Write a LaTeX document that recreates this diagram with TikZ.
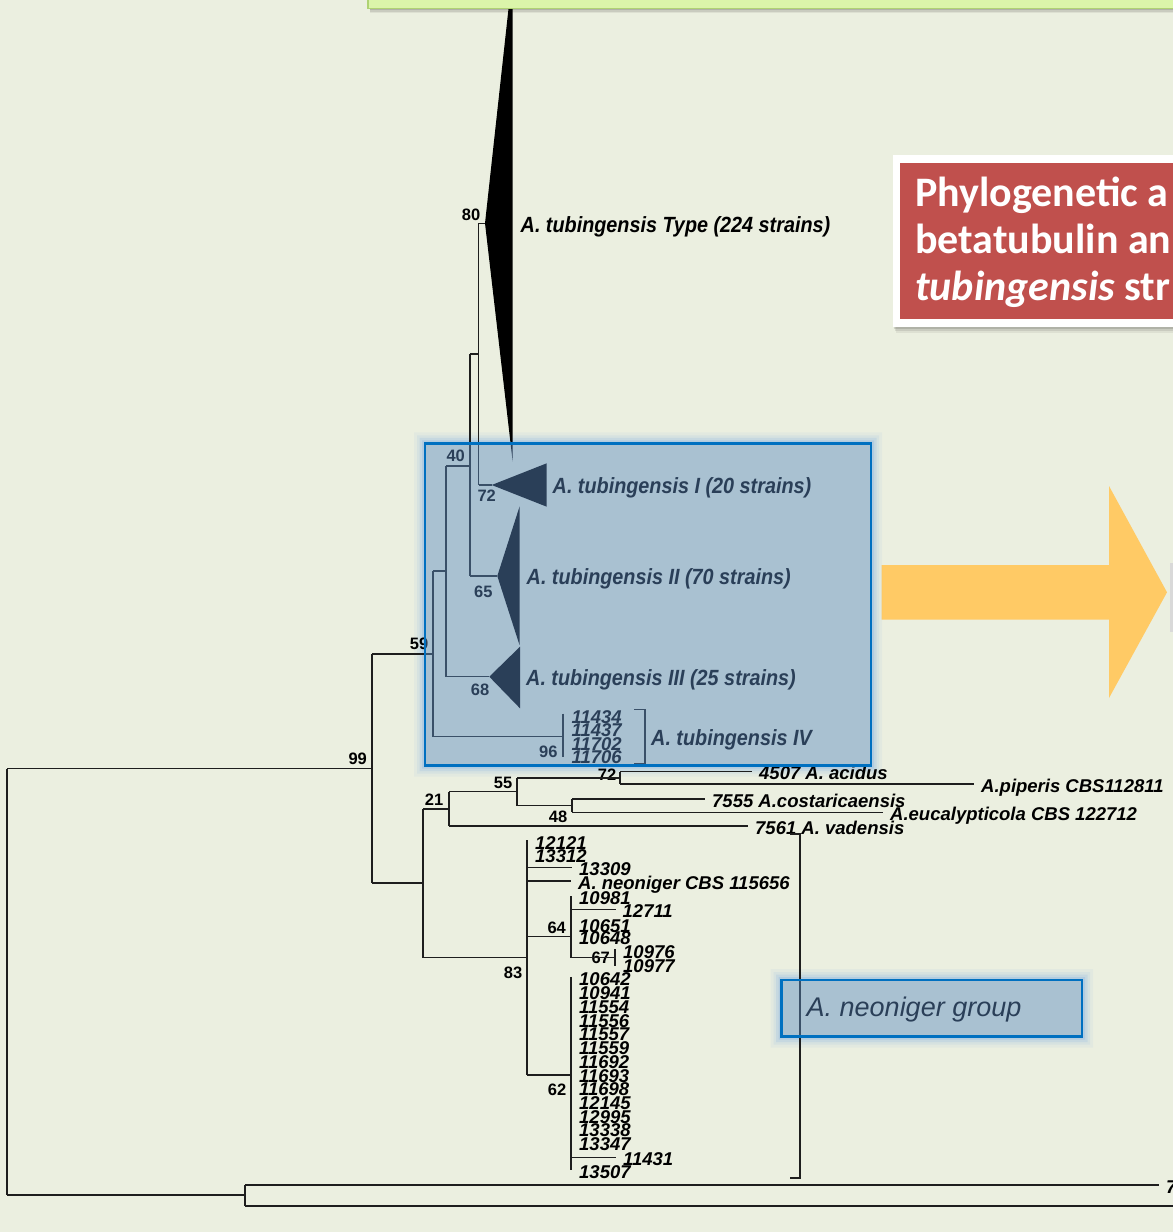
\documentclass[tikz,border=0pt]{standalone}
\usepackage{fontspec}
\setmainfont{Liberation Sans}
\newfontfamily\cladefont[FakeStretch=0.9]{Liberation Sans}
\newfontfamily\calib{Carlito}
\definecolor{bg}{RGB}{235,239,224}
\definecolor{boxblue}{RGB}{93,139,193}
\definecolor{bordblue}{RGB}{0,112,192}
\definecolor{glowblue}{RGB}{110,165,225}
\definecolor{lime}{RGB}{219,245,170}
\definecolor{limeb}{RGB}{175,210,115}
\definecolor{redbox}{RGB}{192,80,77}
\definecolor{arroworange}{RGB}{255,202,101}
\definecolor{linec}{RGB}{30,30,30}
\newcommand\glowring[4]{%
  \foreach \g/\o in {11/0.07,8/0.10,5.5/0.15,3/0.22}{%
    \fill[glowblue,opacity=\o,even odd rule]
      ({#1-\g},{#2-\g}) rectangle ({#3+\g},{#4+\g}) (#1,#2) rectangle (#3,#4);}}
\tikzset{
  br/.style={draw=linec,line width=1.1pt},
  leaf/.style={anchor=west,inner xsep=7pt,inner ysep=0pt,
    font=\fontsize{18.5}{18.5}\selectfont\bfseries\itshape,text height=16.3pt,text depth=0pt},
  bsv/.style={inner sep=0pt,font=\fontsize{16.5}{16.5}\selectfont\bfseries,text height=11.8pt,text depth=0pt},
  cladelab/.style={anchor=west,inner sep=0pt,font=\cladefont\fontsize{22}{22}\selectfont\bfseries\itshape,
    text height=15.8pt,text depth=0pt},
  tri/.style={fill=black},
  titletext/.style={anchor=base west,inner sep=0pt,text=white,font=\calib\fontsize{42}{42}\selectfont\bfseries},
}
\begin{document}
\begin{tikzpicture}[x=1pt,y=-1pt]
\useasboundingbox (0,0) rectangle (1173,1232);
\fill[bg] (0,0) rectangle (1173,1232);
\clip (0,0) rectangle (1173,1232);

% orange arrow
\fill[arroworange] (881.7,565) -- (1109,565) -- (1109,486) -- (1167,592.3) -- (1109,698) -- (1109,619.7) -- (881.7,619.7) -- cycle;

% glows
\glowring{425}{443.3}{871}{765.7}
\glowring{781.7}{980}{1082}{1036.7}

% ---------- tree coordinates ----------
\coordinate (root) at (7,981);
\coordinate (tT) at (485,223.3);
\coordinate (tI) at (491.7,485);
\coordinate (tII) at (497.3,576);
\coordinate (tIII) at (489.3,676.7);
\coordinate (n80) at (478.7,354);
\coordinate (n40b) at (470,466);
\coordinate (n40a) at (446,571);
\coordinate (n96) at (563,736.7);
\coordinate (n59) at (433,654);
\coordinate (n99) at (372,768.7);
\coordinate (nC) at (423,883);
\coordinate (n21) at (449,809);
\coordinate (n55) at (517,791.7);
\coordinate (n72) at (620,778);
\coordinate (n48) at (572,805.7);
\coordinate (n83) at (527,957.7);
\coordinate (n64) at (571,936.7);
\coordinate (n67) at (615,957.7);
\coordinate (n62) at (571,1075);
\coordinate (nB) at (245,1195);
\coordinate (lend) at (1185,1206);

% triangles
\fill[tri] (tT) -- (510,-5) -- (512.7,-5) -- (512.7,461.7) -- cycle;
\fill[tri] (tI) -- (546.7,463.3) -- (546.7,506.7) -- cycle;
\fill[tri] (tII) -- (519.5,506.7) -- (519.5,645) -- cycle;
\fill[tri] (tIII) -- (520,646.7) -- (520,708.3) -- cycle;

% leaf labels
\node[leaf] (acid) at (752,771.7) {4507 A. acidus};
\node[leaf] (pip) at (974,784) {A.piperis CBS112811};
\node[leaf] (cost) at (705,799) {7555 A.costaricaensis};
\node[leaf] (euc) at (883,812.3) {A.eucalypticola CBS 122712};
\node[leaf] (vad) at (748,826) {7561 A. vadensis};
\node[leaf] (l12121) at (528,841.2) {12121};
\node[leaf] (l13312) at (528,854.5) {13312};
\node[leaf] (l13309) at (572,867.7) {13309};
\node[leaf] (lneo) at (571,881) {A. neoniger CBS 115656};
\node[leaf] (l10981) at (572,896.2) {10981};
\node[leaf] (l12711) at (615.5,909.3) {12711};
\node[leaf] (l10651) at (572,924.2) {10651};
\node[leaf] (l10648) at (572,936.8) {10648};
\node[leaf] (l10976) at (616,950.2) {10976};
\node[leaf] (l10977) at (616,964.2) {10977};
\foreach \t [count=\k from 0] in {10642,10941,11554,11556,11557,11559,11692,11693,11698,12145,12995,13338,13347}
  \node[leaf] (l\t) at (572,{977.8+\k*13.72}) {\t};
\node[leaf] (l11431) at (616,1157.7) {11431};
\node[leaf] (l13507) at (572,1170.2) {13507};
\node[leaf] (l11434) at (564.5,715.2) {11434};
\node[leaf] (l11437) at (564.5,728.5) {11437};
\node[leaf] (l11702) at (564.5,742.5) {11702};
\node[leaf] (l11706) at (564.5,755.8) {11706};
\node[leaf] (l7) at (1159,1185) {7};

% clade labels
\node[cladelab] (cT) at (520.5,225) {A. tubingensis Type (224 strains)};
\node[cladelab] (cI) at (552.5,486) {A. tubingensis I (20 strains)};
\node[cladelab] (cII) at (526.5,576.7) {A. tubingensis II (70 strains)};
\node[cladelab] (cIII) at (526,677.3) {A. tubingensis III (25 strains)};
\node[cladelab] (cIV) at (651,737.3) {A. tubingensis IV};

% support values
\node[bsv] (s80) at (471,215) {80};
\node[bsv] (s40) at (455.7,456) {40};
\node[bsv] (s72a) at (486.7,495.7) {72};
\node[bsv] (s65) at (483.3,591.7) {65};
\node[bsv] (s68) at (480,690) {68};
\node[bsv] (s59) at (419,644) {59};
\node[bsv] (s96) at (548.3,751.7) {96};
\node[bsv] (s99) at (357.7,759) {99};
\node[bsv] (s55) at (503,782.7) {55};
\node[bsv] (s72b) at (607,775) {72};
\node[bsv] (s21) at (434,800) {21};
\node[bsv] (s48) at (558,816.7) {48};
\node[bsv] (s64) at (556.7,927.7) {64};
\node[bsv] (s67) at (600.7,958) {67};
\node[bsv] (s83) at (513,972.7) {83};
\node[bsv] (s62) at (557,1090) {62};

% ---------- branches ----------
\draw[br] (root |- n99) -- (n99);
\draw[br] (root |- n99) -- (root |- nB);
\draw[br] (root |- nB) -- (nB);
\draw[br] (nB |- l7.west) -- (nB |- lend);
\draw[br] (nB |- l7.west) -- (l7.west);
\draw[br] (nB |- lend) -- (lend);

\draw[br] (n99 |- n59) -- (n99 |- nC);
\draw[br] (n99 |- n59) -- (n59);
\draw[br] (n99 |- nC) -- (nC);

\draw[br] (n59 |- n40a) -- (n59 |- n96);
\draw[br] (n59 |- n40a) -- (n40a);
\draw[br] (n59 |- n96) -- (n96);
\draw[br] ([yshift=1.5pt]n96 |- l11434.west) -- ([yshift=-1.5pt]n96 |- l11706.west);

\draw[br] (n40a |- n40b) -- (n40a |- tIII);
\draw[br] (n40a |- n40b) -- (n40b);
\draw[br] (n40a |- tIII) -- (tIII);

\draw[br] (n40b |- n80) -- (n40b |- tII);
\draw[br] (n40b |- n80) -- (n80);
\draw[br] (n40b |- tII) -- (tII);

\draw[br] (n80 |- tT) -- (n80 |- tI);
\draw[br] (n80 |- tT) -- (tT);
\draw[br] (n80 |- tI) -- (tI);

\draw[br] (nC |- n21) -- (nC |- n83);
\draw[br] (nC |- n21) -- (n21);
\draw[br] (nC |- n83) -- (n83);

\draw[br] (n21 |- n55) -- (n21 |- vad.west);
\draw[br] (n21 |- n55) -- (n55);
\draw[br] (n21 |- vad.west) -- (vad.west);

\draw[br] (n55 |- n72) -- (n55 |- n48);
\draw[br] (n55 |- n72) -- (n72);
\draw[br] (n55 |- n48) -- (n48);

\draw[br] (n72 |- acid.west) -- (n72 |- pip.west);
\draw[br] (n72 |- acid.west) -- (acid.west);
\draw[br] (n72 |- pip.west) -- (pip.west);

\draw[br] (n48 |- cost.west) -- (n48 |- euc.west);
\draw[br] (n48 |- cost.west) -- (cost.west);
\draw[br] (n48 |- euc.west) -- (euc.west);

\draw[br] ([yshift=1.2pt]n83 |- l12121.west) -- (n83 |- n62);
\draw[br] (n83 |- l13309.west) -- (l13309.west);
\draw[br] (n83 |- lneo.west) -- (lneo.west);
\draw[br] (n83 |- n64) -- (n64);
\draw[br] (n83 |- n62) -- (n62);

\draw[br] (n64 |- l10981.west) -- (n64 |- n67);
\draw[br] (n64 |- l12711.west) -- (l12711.west);
\draw[br] (n64 |- n67) -- (n67);

\draw[br] ([yshift=1pt]n67 |- l10976.west) -- ([yshift=-1.5pt]n67 |- l10977.west);

\draw[br] ([yshift=1pt]n62 |- l10642.west) -- (n62 |- l13507.west);
\draw[br] (n62 |- l11431.west) -- (l11431.west);

% brackets
\coordinate (brIVt) at (645,709.3);
\coordinate (brIVb) at (645,764);
\draw[br] ([xshift=-11pt]brIVt) -- (brIVt) -- (brIVb) -- ([xshift=-11pt]brIVb);
\coordinate (brNt) at (800,834);
\coordinate (brNb) at (800,1178);
\draw[br] ([xshift=-10pt]brNt) -- (brNt) -- (brNb) -- ([xshift=-10pt]brNb);

% neoniger group text (under overlay)
\node[anchor=base west,inner sep=0pt,font=\fontsize{27}{27}\selectfont\itshape] (neog) at (806.5,1016.7) {A. neoniger group};

% blue overlays
\fill[boxblue,fill opacity=0.46] (425,443.3) rectangle (871,765.7);
\draw[bordblue,line width=2.6pt] (425,443.3) rectangle (871,765.7);
\fill[boxblue,fill opacity=0.46] (781.7,980) rectangle (1082,1036.7);
\draw[bordblue,line width=2.6pt] (781.7,980) rectangle (1082,1036.7);

% green box (top)
\foreach \s/\o in {5/0.06,3.5/0.09,2/0.12}
  \fill[black,opacity=\o] (370,-20) rectangle (1190,{8.3+\s});
\fill[lime] (368,-20) rectangle (1190,8.3);
\draw[limeb,line width=1.2pt] (368,-20) rectangle (1190,8.3);

% red title box
\foreach \s/\o in {6/0.06,4/0.09,2/0.12}
  \fill[black,opacity=\o] ({893+\s/2},{155+\s}) rectangle (1190,{326.7+\s});
\fill[white] (893,155) rectangle (1190,326.7);
\fill[redbox] (900,162.7) rectangle (1190,319);
\node[titletext] (t1) at (915,206.5) {Phylogenetic a};
\node[titletext] (t2) at (915,253.5) {betatubulin an};
\node[titletext] (t3) at (915,300.5) {\itshape tubingensis\upshape{} str};

% partial grey box at right edge
\fill[black!15] (1169.5,563) rectangle (1173,632);
\end{tikzpicture}
\end{document}
